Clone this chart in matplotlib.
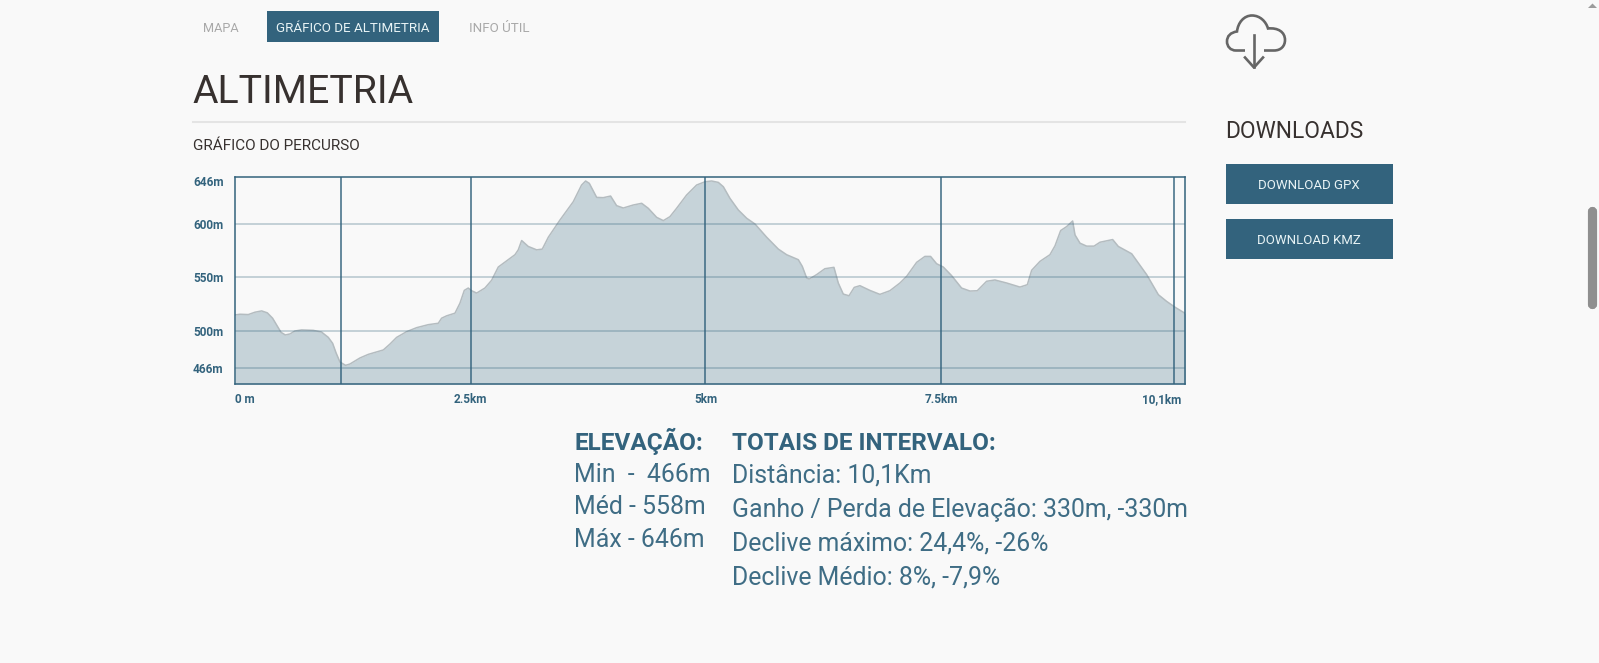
import numpy as np
import matplotlib
matplotlib.use("Agg")
import matplotlib.pyplot as plt
from matplotlib.patches import Rectangle, FancyBboxPatch, PathPatch, Polygon
from matplotlib.path import Path

plt.rcParams['font.family'] = ['Roboto', 'DejaVu Sans']

BG = '#f9f9f9'
BLUE = '#33637d'
DARK = '#37312f'

# elevation profile
dist_km = [0, .05, .138, .209, .28, .34, .396, .439, .485, .531, .58, .633, .704, .828, .916, .987,
           1.033, 1.069, 1.111, 1.171, 1.217, 1.323, 1.412, 1.571, 1.642, 1.713, 1.819, 1.925, 2.049,
           2.155, 2.19, 2.243, 2.332, 2.385, 2.431, 2.473, 2.509, 2.562, 2.65, 2.721, 2.792, 2.863,
           2.969, 3.004, 3.04, 3.11, 3.199, 3.259, 3.323, 3.447, 3.588, 3.676, 3.719, 3.758, 3.836,
           3.906, 3.984, 4.048, 4.119, 4.225, 4.314, 4.384, 4.473, 4.544, 4.614, 4.685, 4.791, 4.897,
           4.986, 5.057, 5.128, 5.181, 5.251, 5.34, 5.429, 5.517, 5.641, 5.765, 5.853, 5.977, 6.019,
           6.065, 6.093, 6.171, 6.259, 6.355, 6.401, 6.454, 6.515, 6.571, 6.631, 6.737, 6.843, 6.949,
           7.056, 7.127, 7.233, 7.321, 7.381, 7.445, 7.516, 7.604, 7.71, 7.799, 7.877, 7.976, 8.064,
           8.188, 8.33, 8.408, 8.454, 8.542, 8.648, 8.702, 8.762, 8.825, 8.889, 8.914, 8.967, 9.038,
           9.116, 9.18, 9.314, 9.374, 9.516, 9.675, 9.799, 9.888, 9.975, 10.1]
elev_m = [515, 515.6, 515.3, 517.5, 518.7, 516.9, 511.9, 505.6, 498.8, 496.4, 497.3, 500, 501, 500.6, 499, 494.2,
          488.8, 480.2, 471.7, 468.7, 469.9, 475.4, 478.7, 482.7, 488.1, 494.2, 499.4, 503.1, 505.9,
          507.2, 511.9, 514.1, 516.6, 525.9, 537.8, 540, 537.5, 535.3, 540, 547.2, 559.7, 564.4,
          571.3, 575.9, 584.7, 579.1, 575.9, 576.6, 587.8, 604.6, 624, 641.7, 646, 643.5, 628.6,
          628.3, 630, 619.8, 617.3, 620.5, 622.3, 617, 607.4, 603.9, 608.1, 617, 631.1, 641.7,
          645.2, 646, 644.5, 639.9, 627.6, 615.2, 606.4, 600.3, 587.8, 576.6, 571.3, 566.6, 560.3,
          549.4, 548.4, 552.5, 558.1, 559.4, 544.7, 534.4, 532.8, 540.6, 542.2, 537.8, 534.1, 537.5,
          544.7, 550.9, 564.1, 569.7, 569.7, 562.8, 559.7, 551.6, 540, 537.2, 537.5, 546.3, 547.5,
          544.7, 540.9, 543.1, 556.6, 565, 571.3, 579.7, 594.1, 597.8, 603.5, 590, 582.2, 579.4,
          579.4, 583.1, 585.6, 579.1, 572.2, 552.5, 533.8, 527.5, 522.2, 515.5]

y_ticks = [466, 500, 550, 600, 646]
y_labels = ['466m', '500m', '550m', '600m', '646m']
x_ticks = [0, 2.5, 5.0, 7.5, 9.83]
x_labels = ['0 m', '2.5km', '5km', '7.5km', '10,1km']
km_marks = [1.125, 2.499, 4.986, 7.488, 9.97]

# the site's y axis is not quite linear near the top
scale_m = [451.6, 466, 500, 550, 600, 646, 650.6]
scale_pos = [0, 15.7, 53, 106.7, 159.7, 203, 207.3]

elevation_left = ['Min  -  466m', 'Méd - 558m', 'Máx - 646m']
elevation_base = [482, 514, 547]
totals = ['Distância: 10,1Km', 'Ganho / Perda de Elevação: 330m, -330m',
          'Declive máximo: 24,4%, -26%', 'Declive Médio: 8%, -7,9%']
totals_base = [482, 517, 551, 585]

W, H = 1599, 663
fig = plt.figure(figsize=(W / 100, H / 100), dpi=100, facecolor=BG)

# page layer in pixel coordinates
page = fig.add_axes([0, 0, 1, 1])
page.set_xlim(0, W)
page.set_ylim(H, 0)
page.axis('off')

page.add_patch(Rectangle((267, 11), 172, 31, color=BLUE, lw=0))
page.text(203, 32, 'MAPA', fontsize=9.2, color='#a9a9a9', va='baseline')
page.text(353, 32, 'GRÁFICO DE ALTIMETRIA', fontsize=9.6, color='#e8f3f5', va='baseline', ha='center')
page.text(469, 32, 'INFO ÚTIL', fontsize=9.6, color='#a9a9a9', va='baseline')

page.text(192, 103, 'ALTIMETRIA', fontsize=28.3, color=DARK, va='baseline')
page.plot([193, 1185], [122, 122], color='#e4e4e4', lw=1.5)
page.text(193, 150, 'GRÁFICO DO PERCURSO', fontsize=11, color=DARK, va='baseline')

page.text(1225.5, 137.5, 'DOWNLOADS', fontsize=16.4, color=DARK, va='baseline')
for top, label in [(164, 'DOWNLOAD GPX'), (219, 'DOWNLOAD KMZ')]:
    page.add_patch(Rectangle((1226, top), 167, 40, color=BLUE, lw=0))
    page.text(1309, top + 25, label, fontsize=9.5, color='#e8f3f5', va='baseline', ha='center')

# cloud icon
cloud = [(1245, 50.5), (1236, 50.5),
         (1230.5, 50.5), (1227, 46.5), (1227, 41.5),
         (1227, 36), (1230.5, 32.5), (1237, 31.5),
         (1238, 22.5), (1244, 15.5), (1252, 15.5),
         (1260, 15.5), (1266, 21.5), (1268, 28.5),
         (1278, 27.5), (1285, 32), (1285, 40),
         (1285, 46), (1281, 50.5), (1274, 50.5),
         (1264, 50.5)]
codes = [Path.MOVETO, Path.LINETO] + [Path.CURVE4] * 18 + [Path.LINETO]
page.add_patch(PathPatch(Path(cloud, codes), fill=False, ec='#666666', lw=1.9, capstyle='butt'))
page.plot([1254, 1254], [35, 67], color='#666666', lw=1.9)
page.plot([1245, 1254, 1263], [57.5, 67.5, 57.5], color='#666666', lw=1.9)

# scrollbar
page.add_patch(FancyBboxPatch((1590, 209), 5, 98, boxstyle='round,pad=0,rounding_size=2.5',
                              fc='#8f8f8f', ec='#8f8f8f', lw=3))
page.add_patch(Polygon([(1588, 8), (1592.5, 3.5), (1597, 8)], color='#9c9c9c', lw=0))

# stats below the chart
page.text(574, 450, 'ELEVAÇÃO:', fontsize=17.6, fontweight='bold', color=BLUE, va='baseline')
page.text(732, 450, 'TOTAIS DE INTERVALO:', fontsize=17.5, fontweight='bold', color=BLUE, va='baseline')
for txt, base in zip(elevation_left, elevation_base):
    page.text(574, base, txt, fontsize=17.9, color='#3f6d85', va='baseline')
for txt, base in zip(totals, totals_base):
    page.text(732, base, txt, fontsize=17.9, color='#3f6d85', va='baseline')

# chart
left, right, top, bottom = 235.3, 1185.3, 176.7, 384
ax = fig.add_axes([left / W, 1 - bottom / H, (right - left) / W, (bottom - top) / H], facecolor=BG)
ax.set_yscale('function', functions=(lambda v: np.interp(v, scale_m, scale_pos),
                                     lambda p: np.interp(p, scale_pos, scale_m)))
ax.fill_between(dist_km, elev_m, scale_m[0], color='#c6d3d9', lw=0, zorder=1)
ax.plot(dist_km, elev_m, color='#b4bcc0', lw=1.1, zorder=2)
for v in y_ticks[:-1]:
    ax.axhline(v, color=BLUE, alpha=0.35, lw=1.1, zorder=3)
for km in km_marks:
    ax.axvline(km, color=BLUE, lw=1.1, alpha=0.95, zorder=4)

ax.set_xlim(0, 10.085)
ax.set_ylim(scale_m[0], scale_m[-1])
ax.set_xticks(x_ticks, x_labels)
ax.set_yticks(y_ticks, y_labels)
ax.minorticks_off()
ax.tick_params(length=0, labelsize=8.5, labelcolor=BLUE)
ax.tick_params(axis='y', pad=8.5)
ax.tick_params(axis='x', pad=6.7)
for lab in ax.get_xticklabels() + ax.get_yticklabels():
    lab.set_fontweight('bold')
ax.get_xticklabels()[0].set_ha('left')
for sp in ax.spines.values():
    sp.set_color(BLUE)
    sp.set_linewidth(1.1)
    sp.set_zorder(5)

fig.savefig('out.png', dpi=100, facecolor=BG)
